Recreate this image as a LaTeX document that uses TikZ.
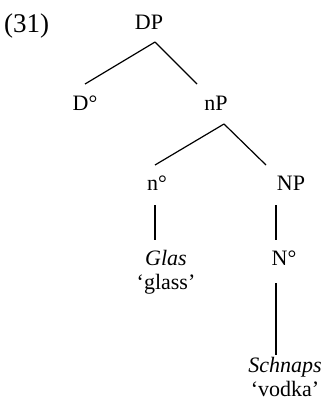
\documentclass[tikz,border=0pt]{standalone}
\usepackage{fontspec}
\setmainfont{Liberation Serif}
\usetikzlibrary{positioning}

\begin{document}
\begin{tikzpicture}[x=1pt, y=-1pt,
                          catnode/.style={anchor=base, inner sep=0pt, font=\fontsize{22}{24}\selectfont},
                          wordnode/.style={catnode, align=center},
                          exnode/.style={anchor=base west, inner sep=0pt, font=\fontsize{27}{30}\selectfont},
                          branch/.style={line width=1.2pt},
                      ]
                      \useasboundingbox (0,0) rectangle (326,404);
                      %Nodes
                      \node[exnode]     (ex)      at (4,33)      {(31)};
                      \node[catnode]    (DP)      at (149,30)    {DP};
                      \node[catnode]    (D)       at (85,110)    {D°};
                      \node[catnode]    (nP)      at (216,110)   {nP};
                      \node[catnode]    (n)       at (157,190)   {n°};
                      \node[catnode]    (NP)      at (291,190)   {NP};
                      \node[wordnode]   (glas)    at (166,289)   {\textit{Glas}\\‘glass’};
                      \node[catnode]    (N)       at (284,265)   {N°};
                      \node[wordnode]   (schnaps) at (285,396)   {\textit{Schnaps}\\‘vodka’};

                      %Lines
                      \draw[branch] ([shift={(6,12)}]DP.base) -- ([shift={(0,-26)}]D.base);
                      \draw[branch] ([shift={(6,12)}]DP.base) -- ([shift={(-19,-26)}]nP.base);
                      \draw[branch] ([shift={(8,14)}]nP.base) -- ([shift={(-2,-25)}]n.base);
                      \draw[branch] ([shift={(8,14)}]nP.base) -- ([shift={(-25,-25)}]NP.base);
                      \draw[branch] ([shift={(-2,15)}]n.base) -- ([shift={(-11,-49)}]glas.base);
                      \draw[branch] ([shift={(-15,15)}]NP.base) -- ([shift={(-8,-25)}]N.base);
                      \draw[branch] ([shift={(-8,18)}]N.base) -- ([shift={(-9,-41)}]schnaps.base);
                  \end{tikzpicture}
\end{document}
